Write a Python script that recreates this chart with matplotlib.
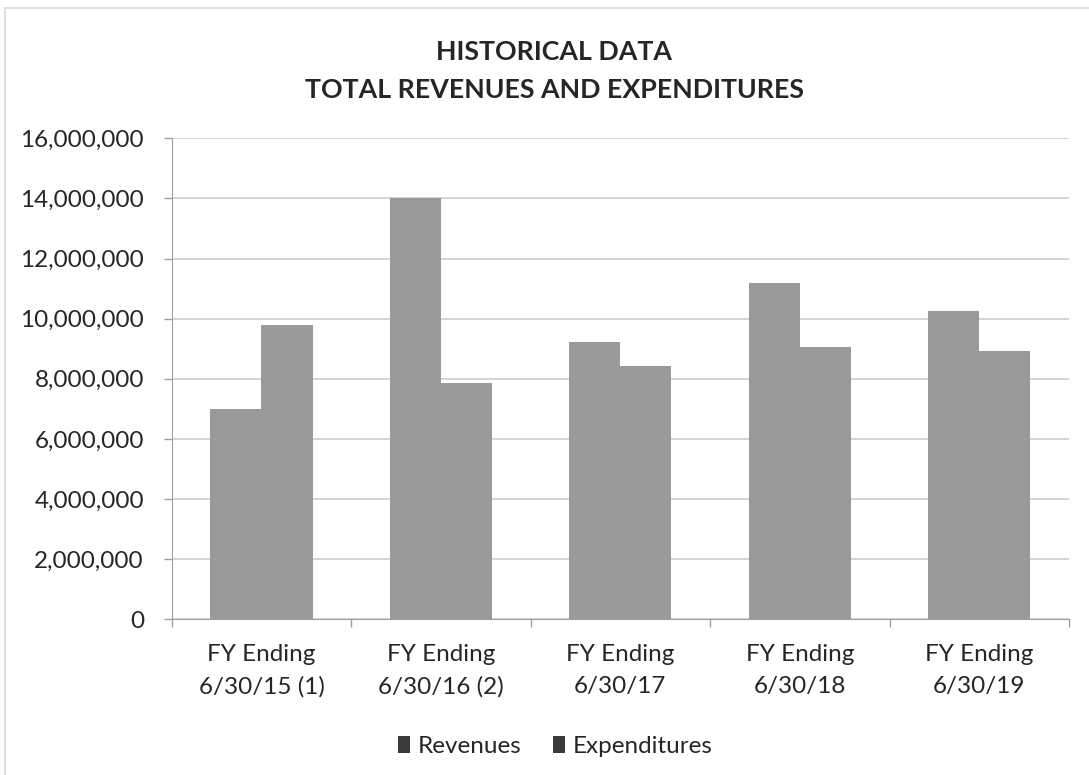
import numpy as np
import matplotlib.pyplot as plt
from matplotlib.patches import Patch, Rectangle
from matplotlib.ticker import FuncFormatter, MultipleLocator

plt.rcParams['font.family'] = ['Lato', 'DejaVu Sans']

# data
years = ["FY Ending\n6/30/15 (1)", "FY Ending\n6/30/16 (2)", "FY Ending\n6/30/17",
         "FY Ending\n6/30/18", "FY Ending\n6/30/19"]
revenues = [7000000, 14000000, 9240000, 11180000, 10240000]
expenditures = [9790000, 7870000, 8410000, 9070000, 8930000]

bar_color = "#9a9a9a"
grid_color = "#c9c9c9"

fig = plt.figure(figsize=(10.89, 7.75), dpi=100)
ax = fig.add_axes([0.1577, 0.2009, 0.8239, 0.6206])

x = np.arange(len(years))
w = 0.285
ax.bar(x - w / 2, revenues, w, color=bar_color, label="Revenues", zorder=3)
ax.bar(x + w / 2, expenditures, w, color=bar_color, label="Expenditures", zorder=3)

ax.set_xlim(-0.5, len(years) - 0.5)
ax.set_ylim(0, 16000000)
ax.yaxis.set_major_locator(MultipleLocator(2000000))
ax.yaxis.set_major_formatter(FuncFormatter(lambda v, p: f"{int(v):,}"))
ax.grid(axis="y", color=grid_color, linewidth=1.1, zorder=0)

ax.set_xticks(x)
ax.set_xticklabels(years, fontsize=17.5, color="#262626", linespacing=1.6)
ax.set_xticks(np.arange(-0.5, len(years)), minor=True)
ax.tick_params(axis="x", which="major", length=0, pad=18)
ax.tick_params(axis="x", which="minor", length=6, color="#a0a0a0", width=1)
ax.tick_params(axis="y", labelsize=17.5, labelcolor="#262626", length=6,
               color="#a0a0a0", width=1, pad=14)

for s in ["top", "right"]:
    ax.spines[s].set_visible(False)
ax.spines["left"].set_color("#a0a0a0")
ax.spines["bottom"].set_color("#a0a0a0")

fig.text(0.509, 0.933, "HISTORICAL DATA", ha="center", va="center",
         fontsize=19.3, fontweight="bold", color="#262626")
fig.text(0.509, 0.884, "TOTAL REVENUES AND EXPENDITURES", ha="center", va="center",
         fontsize=19.3, fontweight="bold", color="#262626")

handles = [Patch(facecolor="#3a3a3a", label="Revenues"),
           Patch(facecolor="#3a3a3a", label="Expenditures")]
fig.legend(handles=handles, loc="center", bbox_to_anchor=(0.51, 0.037), ncol=2,
           frameon=False, fontsize=17.5, handlelength=0.5, handleheight=0.7,
           handletextpad=0.3, columnspacing=1.3, labelcolor="#262626")

# faint frame of the chart area
fig.patches.append(Rectangle((0.005, -0.05), 1.2, 1.04, transform=fig.transFigure,
                             fill=False, edgecolor="#d8d8d8", linewidth=1.2))

fig.savefig("out.png", dpi=100)
